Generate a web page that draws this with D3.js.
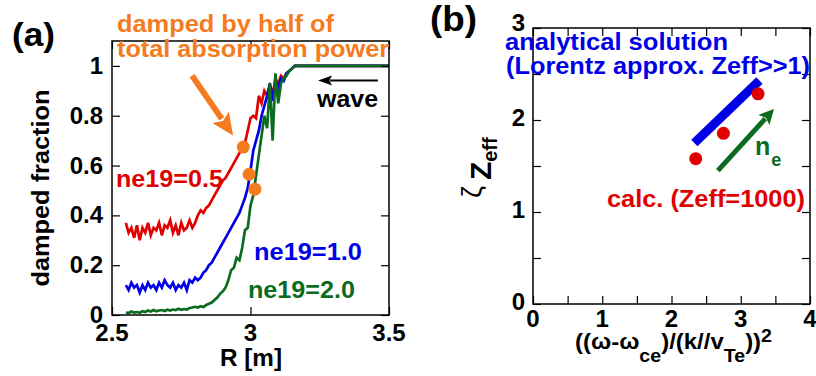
<!DOCTYPE html>
<html>
<head>
<meta charset="utf-8">
<script src="https://cdn.jsdelivr.net/npm/d3@7"></script>
<style>
  body { margin: 0; background: #fff; }
  svg { display: block; }
  text { font-family: "Liberation Sans", Arial, Helvetica, sans-serif; font-weight: bold; }
</style>
</head>
<body>
<svg id="chart" width="816" height="376"></svg>
<script>
// ---- panel (a) data: damped fraction vs R ----
const rGrid = [2.55,2.56,2.57,2.58,2.59,2.60,2.61,2.62,2.63,2.64,2.65,2.66,2.67,2.68,2.69,2.70,
  2.71,2.72,2.73,2.74,2.75,2.76,2.77,2.78,2.79,2.80,2.81,2.82,2.83,2.84,2.85,2.86,2.87,2.88,2.89,2.90,
  2.91,2.92,2.93,2.94,2.95,2.96,2.97,2.98,2.99,3.00,3.01,3.02,3.03,3.04,3.05,3.06,3.07,3.08,3.09,3.10,
  3.11,3.12,3.13,3.14,3.15,3.16,3.17,3.18,3.19,3.20,3.50];

const ne05 = [0.37,0.33,0.35,0.31,0.36,0.30,
  0.35,0.33,0.37,0.32,0.35,0.34,0.37,0.32,0.36,0.35,
  0.38,0.33,0.36,0.32,0.37,0.34,0.35,0.38,0.35,0.37,
  0.40,0.42,0.41,0.43,0.44,0.46,0.48,0.50,0.52,0.54,
  0.55,0.57,0.59,0.61,0.63,0.65,0.67,0.69,0.74,0.79,
  0.80,0.79,0.88,0.85,0.90,0.88,0.92,0.89,0.94,0.93,
  0.96,0.95,0.97,0.98,0.99,1.0,1.0,1.0,1.0,1.0,
  1.0];

const ne10 = [0.12,0.10,0.13,0.11,0.12,0.09,
  0.12,0.10,0.13,0.11,0.12,0.10,0.13,0.11,0.14,0.12,
  0.11,0.13,0.10,0.12,0.11,0.13,0.10,0.14,0.13,0.15,
  0.14,0.15,0.17,0.18,0.20,0.21,0.23,0.25,0.27,0.29,
  0.31,0.33,0.35,0.37,0.39,0.41,0.44,0.47,0.51,0.58,
  0.66,0.70,0.74,0.80,0.84,0.88,0.93,0.86,0.95,0.91,
  0.95,0.94,0.97,0.98,0.99,1.0,1.0,1.0,1.0,1.0,
  1.0];

const ne20 = [0.010,0.008,0.014,0.010,0.012,0.009,
  0.015,0.012,0.018,0.014,0.020,0.015,0.018,0.020,0.016,0.021,
  0.018,0.022,0.020,0.025,0.021,0.024,0.022,0.028,0.030,0.033,
  0.030,0.035,0.032,0.040,0.045,0.050,0.060,0.070,0.085,0.095,
  0.11,0.14,0.18,0.19,0.23,0.22,0.27,0.34,0.35,0.44,
  0.48,0.56,0.64,0.72,0.80,0.75,0.93,0.70,0.97,0.85,
  0.93,0.95,0.96,0.98,0.99,1.0,1.0,1.0,1.0,1.0,
  1.0];

// points where half of the total power is absorbed
const halfR = [2.974, 2.995, 3.016];
const halfVal = [0.674, 0.565, 0.505];

const aTicksX = [2.5, 3, 3.5];
const aTicksY = [0, 0.2, 0.4, 0.6, 0.8, 1];

// ---- panel (b) data ----
const calcX = [2.35, 2.75, 3.25];
const calcY = [1.58, 1.855, 2.285];
const analyticX = [2.33, 3.27];
const analyticY = [1.75, 2.43];
const bTicksX = [0, 1, 2, 3, 4];
const bTicksY = [0, 1, 2, 3];
const bMinorX = [0.5, 1.5, 2.5, 3.5];
const bMinorY = [0.5, 1.5, 2.5];

const red = "#e00000", blue = "#0000e6", green = "#0b6b1f", orange = "#f47b20";

const svg = d3.select("#chart");

function label(g, s, x, y, size, color, len, anchor) {
  const t = g.append("text")
    .attr("x", x).attr("y", y)
    .attr("font-size", size)
    .attr("fill", color || "#000")
    .attr("text-anchor", anchor || "start")
    .text(s);
  if (len) t.attr("textLength", len).attr("lengthAdjust", "spacingAndGlyphs");
  return t;
}

// arrow with a filled head, drawn in pixel space
function arrow(g, x1, y1, x2, y2, color, w, headLen, headW) {
  const dx = x2 - x1, dy = y2 - y1, L = Math.hypot(dx, dy);
  const ux = dx / L, uy = dy / L;
  const bx = x2 - ux * headLen, by = y2 - uy * headLen;
  g.append("line")
    .attr("x1", x1).attr("y1", y1).attr("x2", bx + ux * 2).attr("y2", by + uy * 2)
    .attr("stroke", color).attr("stroke-width", w);
  g.append("path")
    .attr("d", `M${x2},${y2} L${bx - uy * headW / 2},${by + ux * headW / 2} L${bx + ux * headLen * 0.2},${by + uy * headLen * 0.2} L${bx + uy * headW / 2},${by - ux * headW / 2} Z`)
    .attr("fill", color);
}

function frameTicks(g, x, y, ticksX, ticksY, size) {
  const [x0, x1] = x.range(), [y0, y1] = y.range();
  g.append("g").attr("transform", `translate(0,${y0})`)
    .call(d3.axisBottom(x).tickValues(ticksX).tickSize(-size).tickFormat(""));
  g.append("g").attr("transform", `translate(0,${y1})`)
    .call(d3.axisTop(x).tickValues(ticksX).tickSize(-size).tickFormat(""));
  g.append("g").attr("transform", `translate(${x0},0)`)
    .call(d3.axisLeft(y).tickValues(ticksY).tickSize(-size).tickFormat(""));
  g.append("g").attr("transform", `translate(${x1},0)`)
    .call(d3.axisRight(y).tickValues(ticksY).tickSize(-size).tickFormat(""));
  g.selectAll(".domain").remove();
  g.selectAll(".tick line").attr("stroke", "#000").attr("stroke-width", 1.2);
}

/////// PANEL (a) ///////
const xa = d3.scaleLinear().domain([2.5, 3.5]).range([112, 389]);
const ya = d3.scaleLinear().domain([0, 1.1]).range([315, 41]);
const ga = svg.append("g");

const lineA = d3.line().x(d => xa(d[0])).y(d => ya(d[1]));
[[ne05, red], [ne10, blue], [ne20, green]].forEach(([vals, c]) => {
  ga.append("path")
    .datum(rGrid.map((r, i) => [r, vals[i]]))
    .attr("d", lineA)
    .attr("fill", "none")
    .attr("stroke", c)
    .attr("stroke-width", 2.7);
});

frameTicks(ga, xa, ya, aTicksX, aTicksY, 8);
ga.append("rect")
  .attr("x", 112).attr("y", 41).attr("width", 389 - 112).attr("height", 315 - 41)
  .attr("fill", "none").attr("stroke", "#000").attr("stroke-width", 1.5);

ga.selectAll(".half").data(halfR).enter().append("circle")
  .attr("cx", d => xa(d)).attr("cy", (d, i) => ya(halfVal[i]))
  .attr("r", 6.5).attr("fill", orange);

aTicksY.forEach(v => label(ga, String(v), xa(2.5) - 9, ya(v) + 8, 24, "#000", null, "end"));
aTicksX.forEach(v => label(ga, String(v), xa(v), 341, 24, "#000", null, "middle"));
label(ga, "R [m]", 251, 366, 23, "#000", 62, "middle");
label(ga, "damped fraction", 0, 0, 23, "#000", 197, "middle")
  .attr("transform", "translate(49,188) rotate(-90)");
label(ga, "(a)", 12, 46, 34, "#000", 43);

label(ga, "damped by half of", 117, 32, 23, orange, 217);
label(ga, "total absorption power", 117, 57, 23, orange, 272);
arrow(ga, xa(2.789), ya(0.961), xa(2.937), ya(0.721), orange, 6, 22, 20);

arrow(ga, xa(3.46), ya(0.941), xa(3.244), ya(0.941), "#000", 2, 14, 10);
label(ga, "wave", 317, 107, 23, "#000", 61);

label(ga, "ne19=0.5", 116, 187, 23, red, 107);
label(ga, "ne19=1.0", 254, 260, 23, blue, 108);
label(ga, "ne19=2.0", 248, 298, 23, green, 107);

/////// PANEL (b) ///////
const xb = d3.scaleLinear().domain([0, 4]).range([533, 810]);
const yb = d3.scaleLinear().domain([0, 3]).range([304, 28]);
const gb = svg.append("g");

frameTicks(gb, xb, yb, bTicksX.concat(bMinorX), bTicksY.concat(bMinorY), 8);
gb.append("rect")
  .attr("x", 533).attr("y", 28).attr("width", 810 - 533).attr("height", 304 - 28)
  .attr("fill", "none").attr("stroke", "#000").attr("stroke-width", 1.5);

bTicksY.forEach(v => label(gb, String(v), xb(0) - 8, yb(v) + (v === 3 ? 3 : 6), 24, "#000", null, "end"));
bTicksX.forEach(v => label(gb, String(v), xb(v), 327, 24, "#000", null, "middle"));

gb.append("path")
  .datum(analyticX.map((x, i) => [x, analyticY[i]]))
  .attr("d", d3.line().x(d => xb(d[0])).y(d => yb(d[1])))
  .attr("stroke", blue).attr("stroke-width", 9).attr("fill", "none");

gb.selectAll(".calc").data(calcX).enter().append("circle")
  .attr("cx", d => xb(d)).attr("cy", (d, i) => yb(calcY[i]))
  .attr("r", 6.5).attr("fill", red);

arrow(gb, xb(2.67), yb(1.45), xb(3.48), yb(2.12), green, 5, 15, 15);
const ne = label(gb, "n", 755, 155, 25, green);
ne.append("tspan").attr("font-size", 18).attr("dy", 11).attr("dx", 1).text("e");

label(gb, "analytical solution", 505, 50, 23, blue, 223);
label(gb, "(Lorentz approx. Zeff>>1)", 506, 74, 23, blue, 304);
label(gb, "calc. (Zeff=1000)", 607, 207, 23, red, 198);
label(gb, "(b)", 430, 31, 35, "#000", 47);

// x axis label with sub/superscripts
const xl = gb.append("text").attr("x", 575).attr("y", 349).attr("font-size", 22)
  .attr("textLength", 197).attr("lengthAdjust", "spacingAndGlyphs");
xl.append("tspan").text("((ω-ω");
xl.append("tspan").attr("font-size", 18).attr("dy", 13).text("ce");
xl.append("tspan").attr("dy", -13).text(")/(k//v");
xl.append("tspan").attr("font-size", 18).attr("dy", 13).text("Te");
xl.append("tspan").attr("dy", -13).text("))");
xl.append("tspan").attr("font-size", 18).attr("dy", -7).text("2");

// y axis label
const yl = gb.append("text").attr("transform", "translate(491,198) rotate(-90)").attr("font-size", 30);
yl.append("tspan").attr("font-weight", "normal").attr("font-size", 27).attr("dy", -10).text("ζ");
yl.append("tspan").attr("dx", 6).attr("dy", 10).text("Z");
yl.append("tspan").attr("font-size", 20).attr("dy", 6).text("eff");
</script>
</body>
</html>
